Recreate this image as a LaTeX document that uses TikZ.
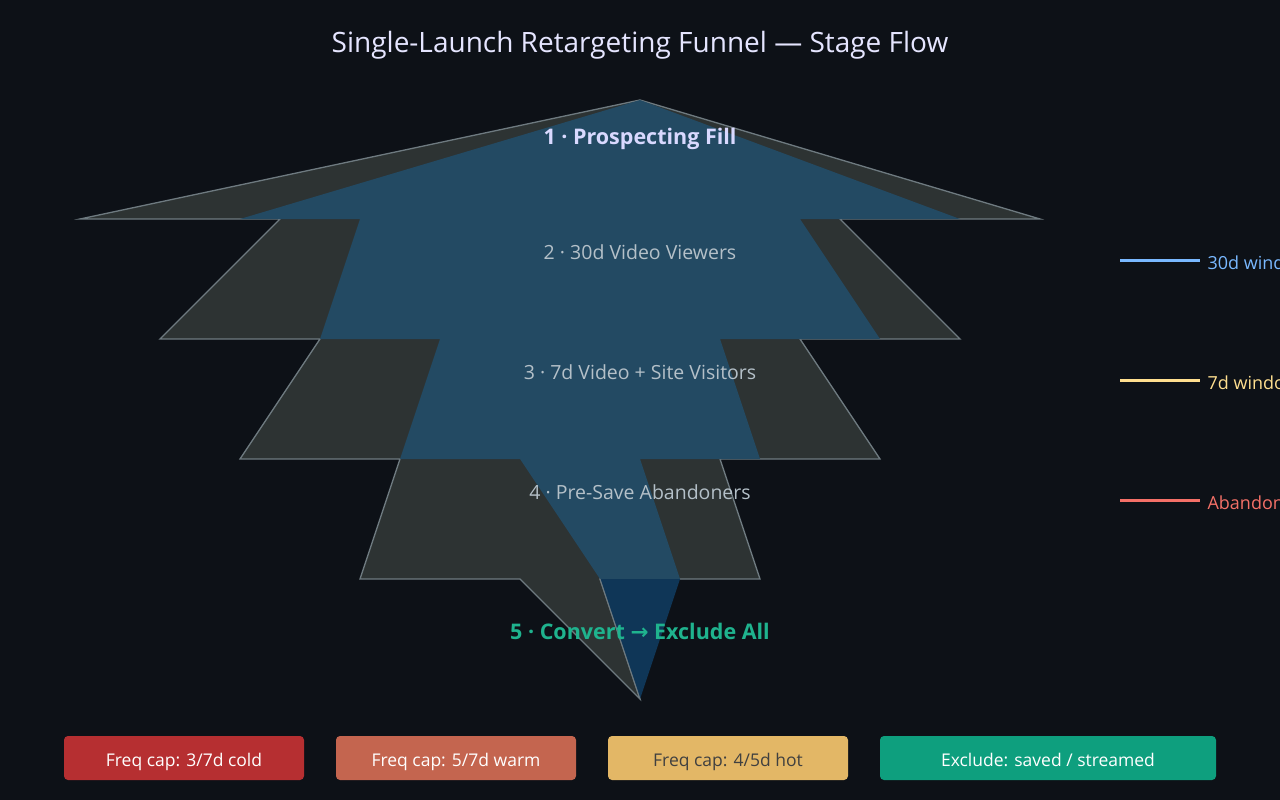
\documentclass[tikz,border=0pt]{standalone}
\usepackage{fontspec}
\setmainfont{Open Sans}
\newfontfamily\arrowfont{DejaVu Sans}
\begin{document}
\begin{tikzpicture}[x=1pt,y=-1pt,
  lbl/.style={font=\fontsize{19.5}{22}\selectfont,text=labc},
  box/.style={rounded corners=4pt,minimum height=44pt,font=\fontsize{17.5}{20}\selectfont,inner sep=0pt,text height=16pt,text depth=0pt},
  leg/.style={line width=3pt},
  legt/.style={anchor=west,font=\fontsize{18}{20}\selectfont}]
\definecolor{bg}{HTML}{0D1117}
\definecolor{gr}{HTML}{2D3333}
\definecolor{bl}{HTML}{234A63}
\definecolor{dbl}{HTML}{0F3657}
\definecolor{edge}{HTML}{6E7A80}
\definecolor{labc}{HTML}{B4C0C8}
\definecolor{c1}{HTML}{79B8FF}
\definecolor{c2}{HTML}{FFDF8F}
\definecolor{c3}{HTML}{F47067}
\definecolor{b1}{HTML}{B62F31}
\definecolor{b2}{HTML}{C4654F}
\definecolor{b3}{HTML}{E3B766}
\definecolor{b4}{HTML}{0E9F7E}
\definecolor{grn}{HTML}{1FB38E}
\useasboundingbox (0,0) rectangle (1280,800);
\clip (0,0) rectangle (1280,800);
\fill[bg] (0,0) rectangle (1280,800);
\node[font=\fontsize{28}{32}\selectfont,text=white!90!blue] (title) at (640,45) {Single-Launch Retargeting Funnel — Stage Flow};
\fill[gr,draw=edge,line width=1.3pt,line join=miter] (640,100)--(1040,219)--(840,219)--(960,339)--(800,339)--(880,459)--(720,459)--(760,579)--(600,579)--(640,699)--(520,579)--(360,579)--(400,459)--(240,459)--(320,339)--(160,339)--(280,219)--(80,219)--cycle;
\fill[bl] (640,100)--(960,219)--(800,219)--(880,339)--(720,339)--(760,459)--(640,459)--(680,579)--(600,579)--(520,459)--(400,459)--(440,339)--(320,339)--(360,219)--(240,219)--cycle;
\fill[dbl] (600,579)--(680,579)--(640,699)--cycle;
\draw[edge,line width=1pt] (600,579)--(640,699);
\node[lbl,font=\bfseries\fontsize{21.5}{24}\selectfont,text=white!85!blue] (s1) at (640,139) {1 · Prospecting Fill};
\node[lbl] (s2) at (640,252) {2 · 30d Video Viewers};
\node[lbl] (s3) at (640,372) {3 · 7d Video + Site Visitors};
\node[lbl] (s4) at (640,492) {4 · Pre-Save Abandoners};
\node[lbl,font=\bfseries\fontsize{21.5}{24}\selectfont,text=grn] (s5) at (640,631) {5 · Convert {\arrowfont\bfseries →} Exclude All};
\coordinate (l1a) at (1120,260); \coordinate (l1b) at (1200,260);
\coordinate (l2a) at (1120,380); \coordinate (l2b) at (1200,380);
\coordinate (l3a) at (1120,500); \coordinate (l3b) at (1200,500);
\draw[leg,c1] (l1a)--(l1b); \node[legt,text=c1] (t1) at (1204,263) {30d window};
\draw[leg,c2] (l2a)--(l2b); \node[legt,text=c2] (t2) at (1204,383) {7d window};
\draw[leg,c3] (l3a)--(l3b); \node[legt,text=c3] (t3) at (1204,503) {Abandoners};
\node[box,fill=b1,text=white,minimum width=240pt] (f1) at (184,758) {Freq cap: 3/7d cold};
\node[box,fill=b2,text=white,minimum width=240pt] (f2) at (456,758) {Freq cap: 5/7d warm};
\node[box,fill=b3,text=black!75,minimum width=240pt] (f3) at (728,758) {Freq cap: 4/5d hot};
\node[box,fill=b4,text=white,minimum width=336pt] (f4) at (1048,758) {Exclude: saved / streamed};
\end{tikzpicture}
\end{document}
